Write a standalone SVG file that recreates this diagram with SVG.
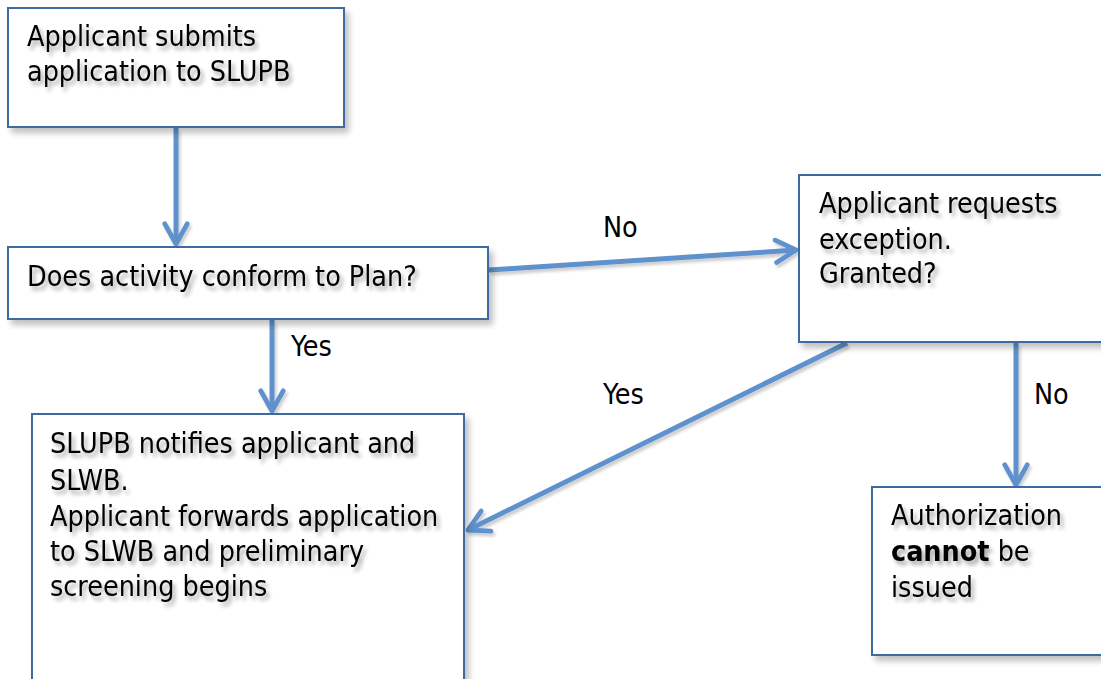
<svg xmlns="http://www.w3.org/2000/svg" width="1101" height="679" viewBox="0 0 1101 679">
<defs>
<filter id="ts" x="-10%" y="-30%" width="130%" height="180%">
<feGaussianBlur in="SourceAlpha" stdDeviation="2"/>
<feOffset dx="3" dy="4" result="b"/>
<feComponentTransfer><feFuncA type="linear" slope="0.35"/></feComponentTransfer>
<feMerge><feMergeNode/><feMergeNode in="SourceGraphic"/></feMerge>
</filter>
<filter id="bs" x="-5%" y="-5%" width="115%" height="120%">
<feGaussianBlur in="SourceAlpha" stdDeviation="3"/>
<feOffset dx="4" dy="5"/>
<feComponentTransfer><feFuncA type="linear" slope="0.25"/></feComponentTransfer>
<feMerge><feMergeNode/><feMergeNode in="SourceGraphic"/></feMerge>
</filter>
<filter id="cs" x="-20%" y="-20%" width="140%" height="140%">
<feGaussianBlur in="SourceAlpha" stdDeviation="1.5"/>
<feOffset dx="2" dy="3"/>
<feComponentTransfer><feFuncA type="linear" slope="0.2"/></feComponentTransfer>
<feMerge><feMergeNode/><feMergeNode in="SourceGraphic"/></feMerge>
</filter>
<marker id="ah" viewBox="0 0 10 10" refX="8.4" refY="5" markerWidth="5.6" markerHeight="5.6" orient="auto" markerUnits="strokeWidth">
<path d="M1.2,1 L8.4,5 L1.2,9" fill="none" stroke="#5f92cc" stroke-width="1.7" stroke-linecap="round" stroke-linejoin="round"/>
</marker>
</defs>
<style>
.box{fill:#ffffff;stroke:#3d6aa1;stroke-width:2;filter:url(#bs)}
.t{font-family:"DejaVu Sans Condensed","DejaVu Sans",sans-serif;font-size:28.4px;fill:#000;filter:url(#ts)}
.lbl{font-family:"DejaVu Sans Condensed","DejaVu Sans",sans-serif;font-size:28.4px;fill:#000}
.c{stroke:#5f92cc;stroke-width:5;fill:none;marker-end:url(#ah)}
</style>
<rect width="1101" height="679" fill="#ffffff"/>
<g id="connectors" filter="url(#cs)">
<line class="c" x1="176" y1="128" x2="176" y2="244"/>
<line class="c" x1="489" y1="270" x2="796" y2="250"/>
<line class="c" x1="272" y1="320" x2="272" y2="411"/>
<line class="c" x1="847" y1="343" x2="468" y2="530"/>
<line class="c" x1="1016" y1="343" x2="1016" y2="485"/>
</g>
<g id="labels">
<text class="lbl" x="603" y="237">No</text>
<text class="lbl" x="291" y="356">Yes</text>
<text class="lbl" x="603" y="404">Yes</text>
<text class="lbl" x="1034" y="404">No</text>
</g>
<g id="n1">
<rect class="box" x="8" y="8" width="336" height="119"/>
<text class="t" x="27" y="46">Applicant submits</text>
<text class="t" x="27" y="81">application to SLUPB</text>
</g>
<g id="n2">
<rect class="box" x="8" y="247" width="480" height="72"/>
<text class="t" x="27" y="286">Does activity conform to Plan?</text>
</g>
<g id="n3">
<rect class="box" x="799" y="175" width="310" height="167"/>
<text class="t" x="819" y="213">Applicant requests</text>
<text class="t" x="819" y="249">exception.</text>
<text class="t" x="819" y="283">Granted?</text>
</g>
<g id="n4">
<rect class="box" x="32" y="414" width="432" height="280"/>
<text class="t" x="50" y="453">SLUPB notifies applicant and</text>
<text class="t" x="50" y="490">SLWB.</text>
<text class="t" x="50" y="526">Applicant forwards application</text>
<text class="t" x="50" y="561">to SLWB and preliminary</text>
<text class="t" x="50" y="596">screening begins</text>
</g>
<g id="n5">
<rect class="box" x="872" y="487" width="240" height="168"/>
<text class="t" x="891" y="525">Authorization</text>
<text class="t" x="891" y="561"><tspan font-weight="bold">cannot</tspan> be</text>
<text class="t" x="891" y="597">issued</text>
</g>
</svg>
